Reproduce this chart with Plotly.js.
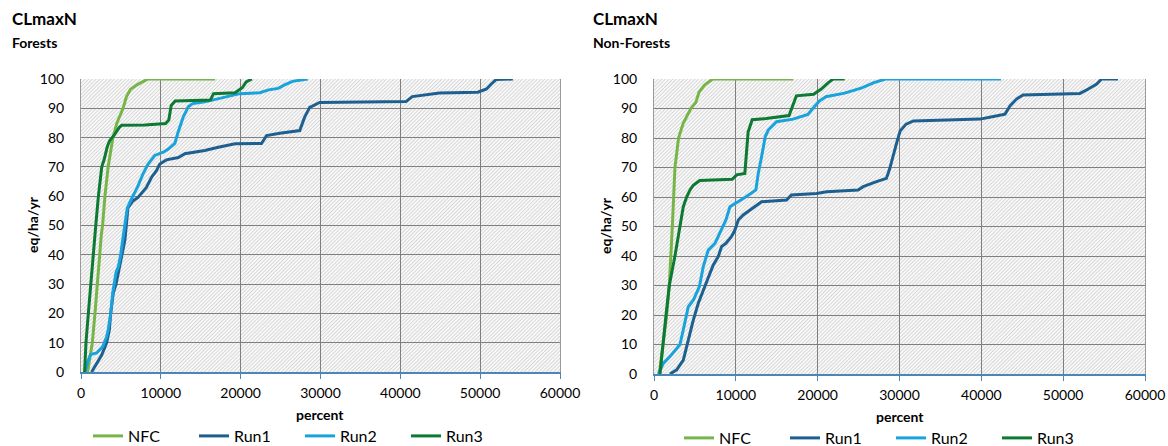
<!DOCTYPE html>
<html><head><meta charset="utf-8">
<script src="https://cdn.plot.ly/plotly-3.0.1.min.js"></script>
<style>html,body{margin:0;padding:0;background:#fff}#chart{width:1168px;height:446px}</style>
</head><body><div id="chart"></div>
<script>
// ---------- data ----------
const seriesNames = ['NFC', 'Run1', 'Run2', 'Run3'];
const xTickVals = [0, 10000, 20000, 30000, 40000, 50000, 60000];
const yTickVals = [0, 10, 20, 30, 40, 50, 60, 70, 80, 90, 100];

// Forests
const forestNfcX = [830,1200,1420,1750,2050,2300,2550,2700,3000,3400,4000,4500,5270,5700,6200,7000,8400,16800];
const forestNfcY = [0,6,10,20,30,40,47,50,60,70,80,85,90,94,96.5,98,100,100];
const forestRun1X = [1330,1960,2590,3210,3550,3720,4050,4390,4800,5100,5500,5670,5880,6500,7140,8190,8820,9450,9870,10700,12200,13000,15500,17200,19300,22600,23250,24900,27400,28000,28650,29900,40700,41500,44900,49700,50800,51400,52000,54100];
const forestRun1Y = [0,3,5.8,10,14.3,20,27,30,36,40,45,50,56,58.4,59.6,63,66.4,68.7,71,72.4,73.2,74.5,75.6,76.7,77.9,78,80.7,81.5,82.4,86.9,90.3,92,92.3,94,95.2,95.5,96.6,98.3,99.8,100];
const forestRun2X = [500,900,1210,1960,2710,3210,3400,3720,3970,4390,4680,4970,5220,5460,5800,6400,7060,7770,8400,9240,10300,10900,11760,12100,12800,13440,14000,15500,16800,18500,19900,22400,23500,24700,25500,26500,28400];
const forestRun2Y = [0,4,6,6.5,8.6,12,14.3,20,27,34,36,40,45,50,56,59.5,63,67.6,71,73.9,75,76,78,81.3,87,90.5,91.6,92.2,93,94,95,95.3,96.3,96.8,98,99.2,100];
const forestRun3X = [450,625,920,1210,1540,1850,2180,2600,2900,3300,3600,4200,4800,5100,8000,10600,11000,11300,11800,16200,16600,19300,20200,20700,21400];
const forestRun3Y = [0,10,20,30,40,50,60,70,72.5,77,79,81,83.5,84.2,84.3,84.8,86,91,92.5,92.8,95,95.3,97,99,100];

// Non-Forests
const nonForestNfcX = [650,1140,1550,1870,2080,2240,2400,2560,3000,3570,4500,5100,5500,6200,7200,17000];
const nonForestNfcY = [0,10,20,30,40,50,60,70,80,85,90,92,95.5,98,100,100];
const nonForestRun1X = [1950,2770,3580,3990,4400,4800,5410,6020,6630,7240,7850,8260,8790,9480,9890,10300,10900,11720,12540,13150,16200,16800,19860,21100,24950,25560,27190,28400,28780,29190,29670,30080,30810,31700,39850,41480,42900,43500,44300,45100,52060,53080,54100,54700,56700];
const nonForestRun1Y = [0,1.4,4.7,9.3,13.8,18.3,24,28.5,33,37,39.8,43.2,44.3,46.6,48.8,52.2,53.9,55.6,57.3,58.4,59,60.7,61.2,61.8,62.4,63.5,65.2,66.3,69.4,74,78.5,82.4,84.7,85.8,86.4,87.3,88.1,90.9,93.2,94.6,95.1,96.6,98.3,100,100];
const nonForestRun2X = [530,1140,1950,3170,3580,4190,4800,5540,6020,6630,7450,8260,8790,9280,10000,11200,12450,12740,13150,13600,13960,14980,17000,18800,19400,20200,21000,23300,25400,26800,28300,42400];
const nonForestRun2Y = [0,3.6,5.9,10,15,22.8,25,29.6,36.4,42,44.3,48.8,52.2,56.7,57.9,60,62.4,68,73.7,80.5,82.7,85.5,86.4,88,90,92.5,94,95.2,97,98.7,100,100];
const nonForestRun3X = [730,1060,1470,1870,2160,2560,3170,3580,3990,4400,4800,5600,9550,10100,11100,11500,12000,13700,16500,17400,19500,20400,21300,21900,23300];
const nonForestRun3Y = [0,10,20,30,34,40,50,56.7,60,62.4,64,65.6,66,67.5,68,82,86.2,86.6,87.6,94.3,94.8,96.5,98.8,100,100];

// ---------- styling ----------
const colors = {NFC: '#77b548', Run1: '#1d6090', Run2: '#1aa2dc', Run3: '#0c7a33'};
const FONT = 'Lato, "Open Sans", "Liberation Sans", sans-serif';
const W = 1168, H = 446;

const forestData = {NFC: [forestNfcX, forestNfcY], Run1: [forestRun1X, forestRun1Y], Run2: [forestRun2X, forestRun2Y], Run3: [forestRun3X, forestRun3Y]};
const nonForestData = {NFC: [nonForestNfcX, nonForestNfcY], Run1: [nonForestRun1X, nonForestRun1Y], Run2: [nonForestRun2X, nonForestRun2Y], Run3: [nonForestRun3X, nonForestRun3Y]};

const traces = [];
seriesNames.forEach(n => traces.push({type: 'scatter', mode: 'lines', name: n, x: forestData[n][0], y: forestData[n][1],
  xaxis: 'x', yaxis: 'y', line: {color: colors[n], width: 3}, legend: 'legend', hoverinfo: 'skip'}));
seriesNames.forEach(n => traces.push({type: 'scatter', mode: 'lines', name: n, x: nonForestData[n][0], y: nonForestData[n][1],
  xaxis: 'x2', yaxis: 'y2', line: {color: colors[n], width: 3}, legend: 'legend2', hoverinfo: 'skip'}));

function hatch(w, h) {
  const svg = `<svg xmlns="http://www.w3.org/2000/svg" width="${w}" height="${h}" viewBox="0 0 ${w} ${h}" preserveAspectRatio="none">` +
    `<defs><pattern id="p" width="2.6" height="2.6" patternUnits="userSpaceOnUse" patternTransform="rotate(45)">` +
    `<rect width="2.6" height="2.6" fill="#f8f8f8"/><rect width="0.8" height="2.6" fill="#d2d2d2"/></pattern></defs>` +
    `<rect width="${w}" height="${h}" fill="url(#p)"/></svg>`;
  return 'data:image/svg+xml;charset=utf-8,' + encodeURIComponent(svg);
}

function xAxis(domain, anchor) {
  return {domain: domain, anchor: anchor, range: [0, 60000], tickvals: xTickVals, tickformat: 'd',
    showgrid: true, gridcolor: '#7f7f7f', gridwidth: 1, zeroline: false,
    showline: true, linecolor: '#4a86b8', linewidth: 2, ticks: 'outside', ticklen: 5, tickwidth: 1, tickcolor: '#4a86b8',
    tickfont: {family: FONT, size: 14, color: '#000'}, ticklabelstandoff: 2, fixedrange: true, automargin: false};
}
function yAxis(domain, anchor) {
  return {domain: domain, anchor: anchor, range: [0, 100], tickvals: yTickVals,
    showgrid: true, gridcolor: '#7f7f7f', gridwidth: 1, zeroline: false,
    showline: true, linecolor: '#9a9a9a', linewidth: 1, mirror: true, ticks: '',
    tickfont: {family: FONT, size: 14, color: '#000'}, ticklabelstandoff: 13, fixedrange: true, automargin: false};
}

const px = v => v / W, py = v => 1 - v / H;

const annotations = [
  {text: '<b>CLmaxN</b>', x: px(10), y: py(18), xanchor: 'left', yanchor: 'middle', font: {size: 17}},
  {text: '<b>Forests</b>', x: px(10), y: py(42), xanchor: 'left', yanchor: 'middle', font: {size: 14}},
  {text: '<b>CLmaxN</b>', x: px(591), y: py(18), xanchor: 'left', yanchor: 'middle', font: {size: 17}},
  {text: '<b>Non-Forests</b>', x: px(591), y: py(42), xanchor: 'left', yanchor: 'middle', font: {size: 14}},
  {text: '<b>percent</b>', x: px(320.5), y: py(414), xanchor: 'center', yanchor: 'middle', font: {size: 14}},
  {text: '<b>percent</b>', x: px(899.5), y: py(416), xanchor: 'center', yanchor: 'middle', font: {size: 14}},
  {text: '<b>eq/ha/yr</b>', x: px(32), y: py(225), textangle: -90, xanchor: 'center', yanchor: 'middle', font: {size: 14}},
  {text: '<b>eq/ha/yr</b>', x: px(605), y: py(226), textangle: -90, xanchor: 'center', yanchor: 'middle', font: {size: 14}}
].map(a => Object.assign({xref: 'paper', yref: 'paper', showarrow: false}, a, {font: Object.assign({family: FONT, color: '#000'}, a.font)}));

const legendBase = {orientation: 'h', yanchor: 'middle', xanchor: 'left', itemwidth: 30, entrywidth: 61, entrywidthmode: 'pixels',
  font: {family: FONT, size: 16, color: '#000'}, bgcolor: 'rgba(0,0,0,0)', borderwidth: 0, itemclick: false, itemdoubleclick: false};

const layout = {
  width: W, height: H, margin: {l: 0, r: 0, t: 0, b: 0, pad: 0, autoexpand: false},
  paper_bgcolor: '#fff', plot_bgcolor: '#f4f4f4', showlegend: true,
  font: {family: FONT, color: '#000'},
  xaxis: xAxis([px(81), px(560)], 'y'),
  yaxis: yAxis([py(372), py(79)], 'x'),
  xaxis2: xAxis([px(654), px(1145)], 'y2'),
  yaxis2: yAxis([py(374), py(79)], 'x2'),
  legend: Object.assign({}, legendBase, {x: px(88), y: py(436)}),
  legend2: Object.assign({}, legendBase, {x: px(679), y: py(438)}),
  images: [
    {source: hatch(479, 293), xref: 'x domain', yref: 'y domain', x: 0, y: 1, sizex: 1, sizey: 1, xanchor: 'left', yanchor: 'top', sizing: 'stretch', layer: 'below'},
    {source: hatch(491, 295), xref: 'x2 domain', yref: 'y2 domain', x: 0, y: 1, sizex: 1, sizey: 1, xanchor: 'left', yanchor: 'top', sizing: 'stretch', layer: 'below'}
  ],
  annotations: annotations
};

Plotly.newPlot('chart', traces, layout, {displayModeBar: false, staticPlot: true});
</script>
</body></html>
